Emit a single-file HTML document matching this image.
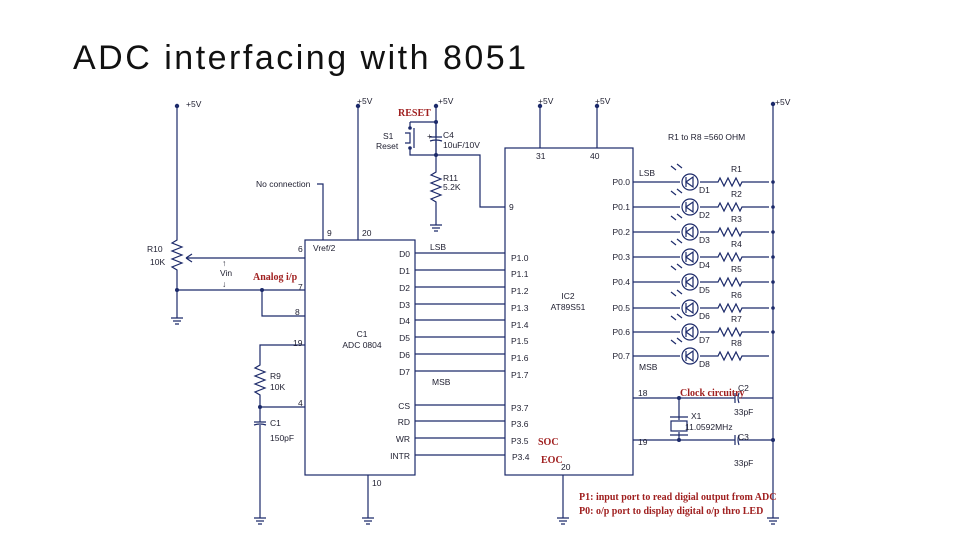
<!DOCTYPE html>
<html><head><meta charset="utf-8"><style>
body{margin:0;background:#fff;width:960px;height:540px;overflow:hidden}
.t{position:absolute;left:73px;top:39px;font:34px "Liberation Sans",sans-serif;color:#111;letter-spacing:2.5px}
svg{position:absolute;left:0;top:0}
text{font-family:"Liberation Sans",sans-serif;font-size:8.5px;fill:#223}
.r{font-family:"Liberation Serif",serif;font-weight:bold;fill:#a02020;font-size:10px}
</style></head><body>
<div class="t">ADC interfacing with 8051</div>
<svg width="960" height="540" viewBox="0 0 960 540">
<g stroke="#1c2a6a" stroke-width="1.2" fill="none">
<path d="M177 106V240 l-5 3 10 4 -10 4 10 4 -10 4 10 4 -10 4 5 3V318"/>
<path d="M171 318h12M173 321h8M175 324h4"/>
<path d="M186 258h119M186 258l6 -4M186 258l6 4"/>
<path d="M177 290h128M262 290V316h43"/>
<rect x="305" y="240" width="110" height="235"/>
<path d="M323 240V184h-6M358 240V106"/>
<path d="M415 253h90M415 270h90M415 287h90M415 304h90M415 320h90M415 337h90M415 354h90M415 371h90"/>
<path d="M415 405h90M415 421h90M415 438h90M415 455h90"/>
<path d="M305 345h-45V365 l-5 3 10 4 -10 4 10 4 -10 4 10 4 -10 4 5 3V407h45M260 407V422M254 422h12M254 425q6 -2 12 0M260 425V518"/>
<path d="M254 518h12M256 521h8M258 524h4"/>
<path d="M368 475V518M362 518h12M364 521h8M366 524h4"/>
<path d="M436 106V155h44V207h25"/>
<path d="M410 122h26M410 122v6M410 148v7h26M414 128v20M405 133h5v10h-5"/>
<path d="M430 137h12M430 141q6 -2 12 0M436 122V137M436 141V155"/>
<path d="M436 155V172 l-5 3 10 4 -10 4 10 4 -10 4 10 4 -10 4 5 3V225M430 225h12M432 228h8M434 231h4"/>
<rect x="505" y="148" width="128" height="327"/>
<path d="M540 148V106M597 148V106M563 475V518M557 518h12M559 521h8M561 524h4"/>
<path d="M773 104V518M767 518h12M769 521h8M771 524h4"/>
<path d="M633 398h102M739 398h34M735 393v10M739 393q-2 5 0 10M633 440h102M739 440h34M735 435v10M739 435q-2 5 0 10"/>
<path d="M679 398V420M679 432V440M670 417h18M670 435h18"/>
<rect x="671" y="421" width="16" height="10"/>
</g>
<g fill="#1c2a6a">
<circle cx="177" cy="106" r="2.2"/><circle cx="358" cy="106" r="2.2"/><circle cx="436" cy="106" r="2.2"/>
<circle cx="540" cy="106" r="2.2"/><circle cx="597" cy="106" r="2.2"/><circle cx="773" cy="104" r="2.2"/>
<circle cx="177" cy="290" r="2"/><circle cx="262" cy="290" r="2"/><circle cx="260" cy="407" r="2"/>
<circle cx="436" cy="122" r="2"/><circle cx="436" cy="155" r="2"/><circle cx="410" cy="128" r="1.8"/><circle cx="410" cy="148" r="1.8"/>
<circle cx="679" cy="398" r="2"/><circle cx="679" cy="440" r="2"/><circle cx="773" cy="440" r="2"/>
</g>
<g stroke="#1c2a6a" stroke-width="1.2" fill="none">
<path d="M633 182h47M700 182h18l2 -4 4 8 4 -8 4 8 4 -8 4 8 2 -4h27"/><circle cx="690" cy="182" r="8"/><path d="M686 182l7 -5v10zM686 177v10"/><path d="M676 170l-5 -4M682 168l-5 -4"/>
<path d="M633 207h47M700 207h18l2 -4 4 8 4 -8 4 8 4 -8 4 8 2 -4h27"/><circle cx="690" cy="207" r="8"/><path d="M686 207l7 -5v10zM686 202v10"/><path d="M676 195l-5 -4M682 193l-5 -4"/>
<path d="M633 232h47M700 232h18l2 -4 4 8 4 -8 4 8 4 -8 4 8 2 -4h27"/><circle cx="690" cy="232" r="8"/><path d="M686 232l7 -5v10zM686 227v10"/><path d="M676 220l-5 -4M682 218l-5 -4"/>
<path d="M633 257h47M700 257h18l2 -4 4 8 4 -8 4 8 4 -8 4 8 2 -4h27"/><circle cx="690" cy="257" r="8"/><path d="M686 257l7 -5v10zM686 252v10"/><path d="M676 245l-5 -4M682 243l-5 -4"/>
<path d="M633 282h47M700 282h18l2 -4 4 8 4 -8 4 8 4 -8 4 8 2 -4h27"/><circle cx="690" cy="282" r="8"/><path d="M686 282l7 -5v10zM686 277v10"/><path d="M676 270l-5 -4M682 268l-5 -4"/>
<path d="M633 308h47M700 308h18l2 -4 4 8 4 -8 4 8 4 -8 4 8 2 -4h27"/><circle cx="690" cy="308" r="8"/><path d="M686 308l7 -5v10zM686 303v10"/><path d="M676 296l-5 -4M682 294l-5 -4"/>
<path d="M633 332h47M700 332h18l2 -4 4 8 4 -8 4 8 4 -8 4 8 2 -4h27"/><circle cx="690" cy="332" r="8"/><path d="M686 332l7 -5v10zM686 327v10"/><path d="M676 320l-5 -4M682 318l-5 -4"/>
<path d="M633 356h47M700 356h18l2 -4 4 8 4 -8 4 8 4 -8 4 8 2 -4h27"/><circle cx="690" cy="356" r="8"/><path d="M686 356l7 -5v10zM686 351v10"/><path d="M676 344l-5 -4M682 342l-5 -4"/>
</g>
<g fill="#1c2a6a"><circle cx="773" cy="182" r="1.8"/><circle cx="773" cy="207" r="1.8"/><circle cx="773" cy="232" r="1.8"/><circle cx="773" cy="257" r="1.8"/><circle cx="773" cy="282" r="1.8"/><circle cx="773" cy="308" r="1.8"/><circle cx="773" cy="332" r="1.8"/></g>
<text x="186" y="107">+5V</text><text x="357" y="104">+5V</text><text x="438" y="104">+5V</text>
<text x="538" y="104">+5V</text><text x="595" y="104">+5V</text><text x="775" y="105">+5V</text>
<text class="r" x="398" y="116">RESET</text>
<text x="383" y="139">S1</text><text x="376" y="149">Reset</text>
<text x="427" y="139">+</text><text x="443" y="138" font-size="10">C4</text><text x="443" y="148">10uF/10V</text>
<text x="443" y="181" font-size="10">R11</text><text x="443" y="190">5.2K</text>
<text x="256" y="187">No connection</text>
<text x="327" y="236">9</text><text x="362" y="236">20</text>
<text x="313" y="251" font-size="9">Vref/2</text>
<text x="298" y="252">6</text><text x="298" y="290">7</text><text x="295" y="315">8</text><text x="293" y="346">19</text><text x="298" y="406">4</text><text x="372" y="486">10</text>
<text x="147" y="252" font-size="10">R10</text><text x="150" y="265">10K</text>
<text x="222" y="266">↑</text><text x="220" y="276">Vin</text><text x="222" y="287">↓</text>
<text class="r" x="253" y="280">Analog i/p</text>
<g text-anchor="end"><text x="410" y="257">D0</text><text x="410" y="274">D1</text><text x="410" y="291">D2</text><text x="410" y="308">D3</text><text x="410" y="324">D4</text><text x="410" y="341">D5</text><text x="410" y="358">D6</text><text x="410" y="375">D7</text>
<text x="410" y="409">CS</text><text x="410" y="425">RD</text><text x="410" y="442">WR</text><text x="410" y="459">INTR</text></g>
<text x="430" y="250">LSB</text><text x="432" y="385">MSB</text>
<text x="362" y="337" text-anchor="middle">C1</text><text x="362" y="348" text-anchor="middle">ADC 0804</text>
<text x="270" y="379" font-size="10">R9</text><text x="270" y="390">10K</text>
<text x="270" y="426" font-size="10">C1</text><text x="270" y="441">150pF</text>
<text x="536" y="159">31</text><text x="590" y="159">40</text><text x="509" y="210">9</text>
<g><text x="511" y="261">P1.0</text><text x="511" y="277">P1.1</text><text x="511" y="294">P1.2</text><text x="511" y="311">P1.3</text><text x="511" y="328">P1.4</text><text x="511" y="344">P1.5</text><text x="511" y="361">P1.6</text><text x="511" y="378">P1.7</text>
<text x="511" y="411">P3.7</text><text x="511" y="427">P3.6</text><text x="511" y="444">P3.5</text><text x="512" y="460">P3.4</text></g>
<text class="r" x="538" y="445">SOC</text><text class="r" x="541" y="463">EOC</text><text x="561" y="470">20</text>
<text x="568" y="299" text-anchor="middle">IC2</text><text x="568" y="310" text-anchor="middle">AT89S51</text>
<g text-anchor="end"><text x="630" y="185">P0.0</text><text x="630" y="210">P0.1</text><text x="630" y="235">P0.2</text><text x="630" y="260">P0.3</text><text x="630" y="285">P0.4</text><text x="630" y="311">P0.5</text><text x="630" y="335">P0.6</text><text x="630" y="359">P0.7</text></g>
<text x="639" y="176">LSB</text><text x="639" y="370">MSB</text>
<text x="668" y="140">R1 to R8 =560 OHM</text>
<g font-size="10"><text x="699" y="193">D1</text><text x="699" y="218">D2</text><text x="699" y="243">D3</text><text x="699" y="268">D4</text><text x="699" y="293">D5</text><text x="699" y="319">D6</text><text x="699" y="343">D7</text><text x="699" y="367">D8</text>
<text x="731" y="172">R1</text><text x="731" y="197">R2</text><text x="731" y="222">R3</text><text x="731" y="247">R4</text><text x="731" y="272">R5</text><text x="731" y="298">R6</text><text x="731" y="322">R7</text><text x="731" y="346">R8</text></g>
<text x="638" y="396">18</text><text x="638" y="445">19</text>
<text class="r" x="680" y="396">Clock circuitry</text>
<text x="738" y="391" font-size="10">C2</text><text x="734" y="415">33pF</text>
<text x="691" y="419" font-size="10">X1</text><text x="685" y="430">11.0592MHz</text>
<text x="738" y="440" font-size="10">C3</text><text x="734" y="466">33pF</text>
<text class="r" x="579" y="500" font-size="9.5">P1: input port to read digial output from ADC</text>
<text class="r" x="579" y="514" font-size="9.5">P0: o/p port to display digital o/p thro LED</text>
</svg>
</body></html>
